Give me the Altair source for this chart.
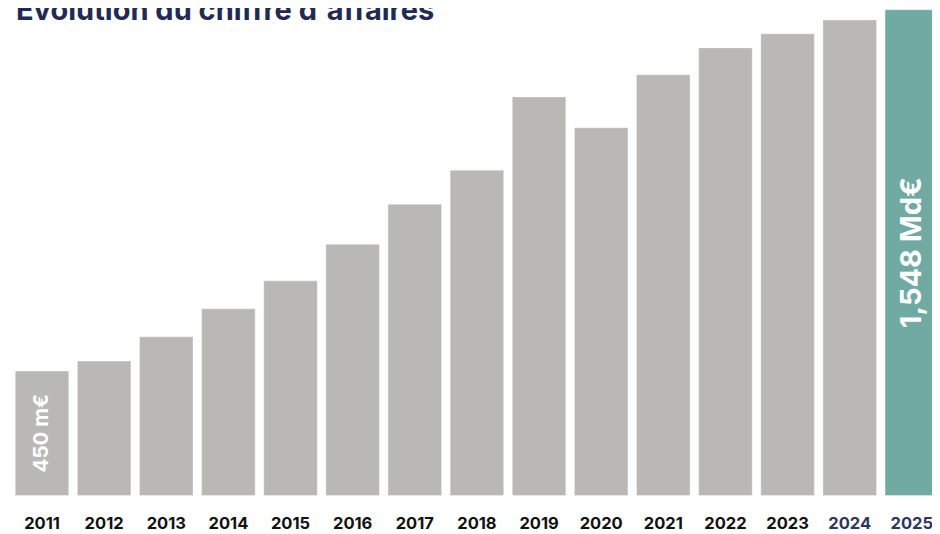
import altair as alt
import pandas as pd

years = ["2011", "2012", "2013", "2014", "2015", "2016", "2017", "2018",
         "2019", "2020", "2021", "2022", "2023", "2024", "2025"]
values = [450, 480, 554, 639, 724, 835, 957, 1060, 1283, 1189, 1350, 1432, 1475, 1517, 1548]
labels = ["450 m€", "", "", "", "", "", "", "", "", "", "", "", "", "", "1,548 Md€"]
highlight = ["past"] * 14 + ["current"]

title_text = "Évolution du chiffre d'affaires"

BASE = 71.6
TOP = 1553.2
FONT = "Inter"

df = pd.DataFrame({"year": years, "value": values, "label": labels, "kind": highlight})

x_enc = alt.X(
    "year:N",
    sort=years,
    scale=alt.Scale(range=[7.24, 930.6], paddingInner=0.1383, paddingOuter=0),
    axis=alt.Axis(
        title=None,
        domain=False,
        ticks=False,
        tickSize=0,
        grid=False,
        labelAngle=0,
        labelFont=FONT,
        labelFontSize=16.5,
        labelFontWeight="bold",
        labelBaseline="alphabetic",
        labelPadding=33,
        labelColor={
            "condition": {"test": "indexof(['2024','2025'], datum.value) >= 0", "value": "#2d3561"},
            "value": "#111111",
        },
    ),
)

y_scale = alt.Scale(domain=[BASE, TOP], zero=False, nice=False)

base = alt.Chart(df)

bars = base.mark_bar(stroke="#ffffff", strokeOpacity=0.35, strokeWidth=1).encode(
    x=x_enc,
    y=alt.Y("value:Q", scale=y_scale, axis=None),
    y2=alt.datum(BASE),
    color=alt.Color(
        "kind:N",
        scale=alt.Scale(domain=["past", "current"], range=["#b9b8b4", "#70aaa2"]),
        legend=None,
    ),
)

label_base = base.transform_calculate(mid=f"(datum.value + {BASE}) / 2")

small_label = label_base.transform_filter(alt.datum.year == years[0]).mark_text(
    angle=270, align="center", baseline="middle", font=FONT, fontWeight="bold",
    fontSize=20.5, color="#ffffff",
).encode(
    x=alt.X("year:N", sort=years),
    y=alt.Y("mid:Q", scale=y_scale),
    text="label:N",
)

big_label = label_base.transform_filter(alt.datum.year == years[-1]).mark_text(
    angle=270, align="center", baseline="middle", font=FONT, fontWeight="bold",
    fontSize=29, color="#ffffff",
).encode(
    x=alt.X("year:N", sort=years),
    y=alt.Y("mid:Q", scale=y_scale),
    text="label:N",
)

title = alt.Chart(pd.DataFrame({"t": [title_text]})).mark_text(
    align="left", baseline="alphabetic", font=FONT, fontWeight="bold",
    fontSize=29, color="#232a52", clip=True,
).encode(
    x=alt.value(8),
    y=alt.value(12),
    text="t:N",
)

chart = alt.layer(bars, small_label, big_label, title).properties(
    width=924,
    height=487.5,
    autosize=alt.AutoSizeParams(type="none"),
    padding={"left": 0, "top": 0, "right": 0, "bottom": 38.5},
).configure_view(stroke=None)

chart.save("out.html", embed_options={"renderer": "svg", "actions": False})
